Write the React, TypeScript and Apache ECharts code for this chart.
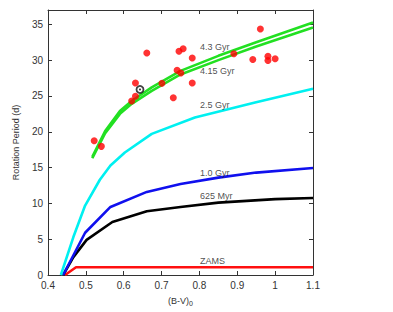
import React, { useEffect, useRef } from "react";
import * as echarts from "echarts";

const zamsX = [0.445, 0.474, 1.1];
const zamsY = [0, 1.08, 1.08];
const myr625X = [0.44, 0.467, 0.502, 0.57, 0.661, 0.75, 0.85, 1.0, 1.1];
const myr625Y = [0, 2.5, 4.9, 7.4, 8.9, 9.5, 10.1, 10.6, 10.75];
const gyr1X = [0.44, 0.498, 0.565, 0.661, 0.75, 0.85, 0.95, 1.1];
const gyr1Y = [0, 5.9, 9.5, 11.6, 12.7, 13.6, 14.3, 14.95];
const gyr25X = [0.434, 0.467, 0.498, 0.537, 0.565, 0.603, 0.674, 0.788, 0.947, 1.1];
const gyr25Y = [0, 5.3, 9.7, 13.3, 15.3, 17.1, 19.7, 22.0, 24.1, 26.0];
const gyr43X = [0.517, 0.551, 0.59, 0.621, 0.674, 0.75, 0.85, 0.95, 1.1];
const gyr43Y = [16.5, 20.1, 22.9, 24.3, 26.2, 28.5, 30.6, 32.5, 35.25];
const gyr415X = [0.517, 0.551, 0.59, 0.621, 0.674, 0.75, 0.85, 0.95, 1.1];
const gyr415Y = [16.3, 19.8, 22.5, 23.9, 25.7, 28.0, 30.0, 31.9, 34.55];

const starBV = [0.522, 0.541, 0.661, 0.631, 0.631, 0.621, 0.701, 0.731, 0.741, 0.751, 0.746, 0.757, 0.781, 0.781, 0.891, 0.961, 0.941, 0.981, 0.981, 1.0];
const starP = [18.75, 17.96, 31.0, 26.8, 24.95, 24.3, 26.76, 24.75, 28.6, 28.2, 31.25, 31.6, 30.3, 26.8, 30.9, 34.35, 30.1, 30.55, 29.95, 30.2];
const sunBV = [0.643];
const sunP = [25.9];

const curveLabels = ["4.3 Gyr", "4.15 Gyr", "2.5 Gyr", "1.0 Gyr", "625 Myr", "ZAMS"];
const labelX = [0.8, 0.8, 0.8, 0.8, 0.8, 0.8];
const labelY = [31.9, 28.5, 23.75, 14.3, 11.0, 1.95];

const pairs = (xs: number[], ys: number[]) => xs.map((x, i) => [x, ys[i]]);

const FONT = "Liberation Sans";
const AXIS_COLOR = "#333";

export default function App() {
  const ref = useRef<HTMLDivElement>(null);
  useEffect(() => {
    if (!ref.current) return;
    const chart = echarts.init(ref.current, null, { renderer: "svg" });
    const xFmt = (v: number) => String(Math.round(v * 10) / 10);
    const lineSeries = (name: string, xs: number[], ys: number[], color: string, z: number) => ({
      name,
      type: "line",
      data: pairs(xs, ys),
      showSymbol: false,
      symbol: "none",
      lineStyle: { color, width: 2.6, join: "round" },
      z,
      silent: true,
    });
    const baseX = {
      type: "value",
      min: 0.4,
      max: 1.1,
      interval: 0.1,
      splitLine: { show: false },
      axisLine: { show: true, onZero: false, lineStyle: { color: AXIS_COLOR, width: 1 } },
      axisTick: { show: true, inside: true, length: 4, lineStyle: { color: AXIS_COLOR } },
    };
    const baseY = {
      type: "value",
      min: 0,
      max: 37,
      interval: 5,
      splitLine: { show: false },
      axisLine: { show: true, onZero: false, lineStyle: { color: AXIS_COLOR, width: 1 } },
      axisTick: { show: true, inside: true, length: 4, lineStyle: { color: AXIS_COLOR } },
    };
    chart.setOption({
      animation: false,
      backgroundColor: "#fff",
      textStyle: { fontFamily: FONT },
      grid: { left: 48, right: 80, top: 10, bottom: 37, containLabel: false },
      xAxis: [
        {
          ...baseX,
          position: "bottom",
          axisLabel: { formatter: xFmt, fontSize: 10, color: "#333", margin: 5, fontFamily: FONT },
          name: "{a|(B-V)}{s|0}",
          nameLocation: "middle",
          nameGap: 15,
          nameTextStyle: {
            color: "#333",
            fontFamily: FONT,
            verticalAlign: "top",
            rich: {
              a: { fontSize: 9, fontFamily: FONT, color: "#333", lineHeight: 11 },
              s: { fontSize: 7, fontFamily: FONT, color: "#333", padding: [5, 0, 0, 0], lineHeight: 11 },
            },
          },
        },
        { ...baseX, position: "top", axisLabel: { show: false } },
      ],
      yAxis: [
        {
          ...baseY,
          position: "left",
          axisLabel: {
            fontSize: 10,
            color: "#333",
            margin: 5,
            fontFamily: FONT,
            showMaxLabel: false,
            formatter: (v: number) => (v > 35 ? "" : String(v)),
          },
          name: "Rotation Period (d)",
          nameLocation: "middle",
          nameGap: 22,
          nameTextStyle: { fontSize: 9, color: "#333", fontFamily: FONT },
        },
        { ...baseY, position: "right", axisLabel: { show: false } },
      ],
      series: [
        lineSeries("ZAMS", zamsX, zamsY, "#ff1010", 2),
        lineSeries("625 Myr", myr625X, myr625Y, "#000000", 2),
        lineSeries("1.0 Gyr", gyr1X, gyr1Y, "#1010ee", 2),
        lineSeries("2.5 Gyr", gyr25X, gyr25Y, "#00f0f0", 2),
        lineSeries("4.15 Gyr", gyr415X, gyr415Y, "#22e022", 2),
        lineSeries("4.3 Gyr", gyr43X, gyr43Y, "#22e022", 2),
        {
          name: "stars",
          type: "scatter",
          data: pairs(starBV, starP),
          symbol: "circle",
          symbolSize: 7,
          itemStyle: { color: "#ff0000" },
          z: 5,
          silent: true,
        },
        {
          name: "sun",
          type: "scatter",
          data: pairs(sunBV, sunP),
          symbol: "circle",
          symbolSize: 7,
          itemStyle: { color: "#ffffff", borderColor: "#111", borderWidth: 1.8 },
          z: 6,
          silent: true,
        },
        {
          name: "sunDot",
          type: "scatter",
          data: pairs(sunBV, sunP),
          symbol: "circle",
          symbolSize: 2.2,
          itemStyle: { color: "#111" },
          z: 7,
          silent: true,
        },
        {
          name: "labels",
          type: "scatter",
          data: pairs(labelX, labelY).map((p, i) => ({ value: p, name: curveLabels[i] })),
          symbol: "circle",
          symbolSize: 1,
          itemStyle: { color: "rgba(255,255,255,0)" },
          label: {
            show: true,
            position: "right",
            distance: 0,
            formatter: (p: any) => p.name,
            fontSize: 9,
            color: "#222",
            fontFamily: FONT,
          },
          z: 8,
          silent: true,
        },
      ],
    });
    return () => chart.dispose();
  }, []);
  return (
    <div
      ref={ref}
      style={{ position: "fixed", left: 0, top: 0, width: 393, height: 312, background: "#fff" }}
    />
  );
}
